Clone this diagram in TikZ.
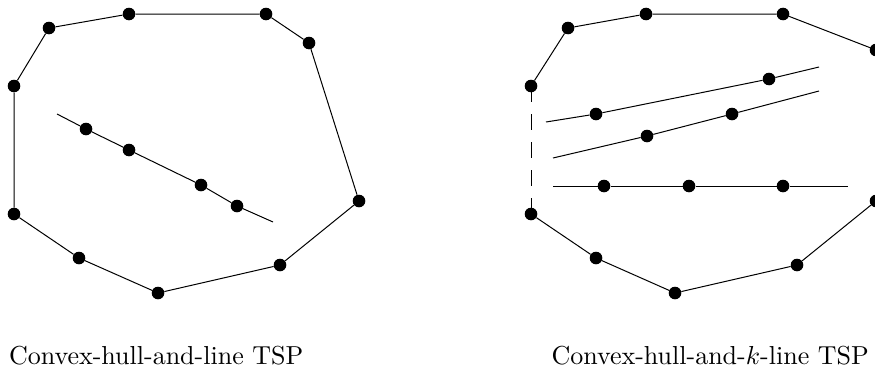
\documentclass[tikz,border=0pt]{standalone}
\begin{document}
\begin{tikzpicture}[x=1pt,y=-1pt,
  dot/.style={circle,fill=black,draw=none,inner sep=0pt,minimum size=12.6pt},
  edge/.style={line width=1pt,black},
  dashedge/.style={line width=1pt,black,dash pattern=on 16pt off 12pt},
  caption/.style={anchor=base west,inner sep=0pt,scale=2.6,transform shape,font=\fontsize{10}{12}\selectfont}]
\useasboundingbox (0,0) rectangle (875,375);
\clip (0,0) rectangle (875,375);
% ---------- left figure ----------
\node[dot] (a1) at (14,86) {};
\node[dot] (b1) at (49,28) {};
\node[dot] (c1) at (129,14) {};
\node[dot] (d1) at (266,14) {};
\node[dot] (e1) at (309,43) {};
\node[dot] (f1) at (359,201) {};
\node[dot] (g1) at (280,265) {};
\node[dot] (h1) at (158,293) {};
\node[dot] (i1) at (79,258) {};
\node[dot] (j1) at (14,214) {};
\draw[edge] (a1) -- (b1) -- (c1) -- (d1) -- (e1) -- (f1) -- (g1) -- (h1) -- (i1) -- (j1) -- (a1);
\coordinate (s1) at (57,114);
\coordinate (t1) at (273,222);
\node[dot] (p1) at (86,129) {};
\node[dot] (q1) at (129,150) {};
\node[dot] (r1) at (201,185) {};
\node[dot] (u1) at (237,206) {};
\draw[edge] (s1) -- (p1) -- (q1) -- (r1) -- (u1) -- (t1);
% ---------- right figure ----------
\node[dot] (a2) at (531,86) {};
\node[dot] (b2) at (568,28) {};
\node[dot] (c2) at (646,14) {};
\node[dot] (d2) at (783,14) {};
\node[dot] (e2) at (876,50) {};
\node[dot] (f2) at (876,201) {};
\node[dot] (g2) at (797,265) {};
\node[dot] (h2) at (675,293) {};
\node[dot] (i2) at (596,258) {};
\node[dot] (j2) at (531,214) {};
\draw[edge] (a2) -- (b2) -- (c2) -- (d2) -- (e2) -- (f2) -- (g2) -- (h2) -- (i2) -- (j2);
\draw[dashedge] (a2.center) -- (j2.center);
\coordinate (s2) at (546,122);
\coordinate (t2) at (819,67);
\node[dot] (m1) at (596,114) {};
\node[dot] (m2) at (769,79) {};
\draw[edge] (s2) -- (m1) -- (m2) -- (t2);
\coordinate (s3) at (553,158);
\coordinate (t3) at (819,91);
\node[dot] (n1) at (647,136) {};
\node[dot] (n2) at (732,114) {};
\draw[edge] (s3) -- (n1) -- (n2) -- (t3);
\coordinate (s4) at (553,186);
\coordinate (t4) at (848,186);
\node[dot] (k1) at (604,186) {};
\node[dot] (k2) at (689,186) {};
\node[dot] (k3) at (783,186) {};
\draw[edge] (s4) -- (k1) -- (k2) -- (k3) -- (t4);
% ---------- captions ----------
\node[caption] (cap1) at (8.5,364) {Convex-hull-and-line TSP};
\node[caption] (cap2) at (551,364) {Convex-hull-and-$k$-line TSP};
\end{tikzpicture}
\end{document}
